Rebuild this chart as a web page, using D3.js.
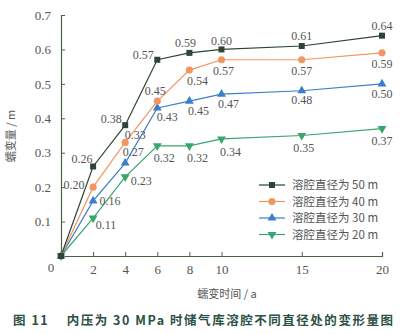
<!DOCTYPE html>
<html><head><meta charset="utf-8">
<script src="https://cdn.jsdelivr.net/npm/d3@7/dist/d3.min.js"></script>
<style>body{margin:0;background:#fff}svg{display:block}</style>
</head><body>
<script>
const years = [0, 2, 4, 6, 8, 10, 15, 20];
const s50 = [0, 0.26, 0.38, 0.57, 0.59, 0.60, 0.61, 0.64];
const s40 = [0, 0.20, 0.33, 0.45, 0.54, 0.57, 0.57, 0.59];
const s30 = [0, 0.16, 0.27, 0.43, 0.45, 0.47, 0.48, 0.50];
const s20 = [0, 0.11, 0.23, 0.32, 0.32, 0.34, 0.35, 0.37];
const seriesNames = ["溶腔直径为 50 m", "溶腔直径为 40 m", "溶腔直径为 30 m", "溶腔直径为 20 m"];
const xTicks = [2, 4, 6, 8, 10, 15, 20];
const yTicks = [0.1, 0.2, 0.3, 0.4, 0.5, 0.6, 0.7];
// label offsets (dx, dy) per point, per series
const off50 = [null, [-11,-8], [-14,-6], [-14,-5], [-4,-10], [0,-9], [0,-10], [0,-10]];
const off40 = [null, [-19,-2], [10,-8], [-2,-10], [8,11], [2,11], [0,11], [0,11]];
const off30 = [null, [17,0], [8,-11], [10,9], [9,10], [7,10], [0,9], [0,10]];
const off20 = [null, [13,7], [16,4], [7,12], [8,12], [9,13], [2,12], [0,12]];

const W = 400, H = 334;
const svg = d3.select("body").append("svg").attr("width", W).attr("height", H);
const x = d3.scaleLinear().domain([0, 20]).range([61, 382]);
const y = d3.scaleLinear().domain([0, 0.7]).range([256, 15]);
const axisColor = "#4a6345";
const textColor = "#555";
const numFont = "'Liberation Serif', 'DejaVu Serif', serif";
const cjkFont = "'Noto Sans CJK SC', sans-serif";

// axes
const gx = svg.append("g").attr("transform", `translate(0,${y(0)})`)
  .call(d3.axisBottom(x).tickValues(xTicks).tickSize(-4).tickPadding(9).tickFormat(d3.format("d")));
const gy = svg.append("g").attr("transform", `translate(${x(0)},0)`)
  .call(d3.axisLeft(y).tickValues(yTicks).tickSize(-4).tickPadding(10).tickFormat(d3.format(".1f")));
[gx, gy].forEach(g => {
  g.select(".domain").attr("stroke", axisColor).attr("stroke-width", 1.2);
  g.selectAll(".tick line").attr("stroke", axisColor);
  g.selectAll(".tick text").attr("fill", textColor).style("font-family", numFont).style("font-size", "13px");
});
svg.append("text").attr("x", 51).attr("y", 272).attr("text-anchor", "middle")
  .attr("fill", textColor).style("font-family", numFont).style("font-size", "13px").text("0");

// axis titles
svg.append("text").attr("transform", `translate(15,136) rotate(-90)`).attr("text-anchor", "middle")
  .attr("fill", textColor).style("font-family", cjkFont).style("font-size", "11px").text("蠕变量 / m");
svg.append("text").attr("x", 227).attr("y", 298).attr("text-anchor", "middle")
  .attr("fill", textColor).style("font-family", cjkFont).style("font-size", "11px").text("蠕变时间 / a");

// title
svg.append("text").attr("x", 13).attr("y", 325).attr("text-anchor", "start")
  .attr("textLength", 380).attr("lengthAdjust", "spacing")
  .attr("fill", "#2c4f46").style("font-family", cjkFont).style("font-size", "12.5px").style("font-weight", "bold")
  .attr("xml:space", "preserve")
  .text("图 11    内压为 30 MPa 时储气库溶腔不同直径处的变形量图");

const series = [
  {name: seriesNames[0], vals: s50, color: "#2c4535", sym: d3.symbolSquare, size: 36, off: off50},
  {name: seriesNames[1], vals: s40, color: "#f39560", sym: d3.symbolCircle, size: 40, off: off40},
  {name: seriesNames[2], vals: s30, color: "#3a7fc9", sym: d3.symbolTriangle, size: 34, off: off30},
  {name: seriesNames[3], vals: s20, color: "#3aa56e", sym: d3.symbolTriangle, size: 34, off: off20, rot: 180}
];

const line = d3.line().x((d, i) => x(years[i])).y(d => y(d));
series.slice().reverse().forEach(s => {
  svg.append("path").datum(s.vals).attr("d", line).attr("fill", "none").attr("stroke", s.color).attr("stroke-width", 1.2);
});
series.slice().reverse().forEach(s => {
  svg.selectAll(null).data(s.vals).enter().append("path")
    .attr("d", d3.symbol().type(s.sym).size(s.size))
    .attr("transform", (d, i) => `translate(${x(years[i])},${y(d)})` + (s.rot ? ` rotate(${s.rot})` : ""))
    .attr("fill", s.color);
});
series.forEach(s => {
  svg.selectAll(null).data(s.vals.map((v, i) => ({v, i})).filter(d => d.i > 0)).enter().append("text")
    .attr("x", d => x(years[d.i]) + s.off[d.i][0])
    .attr("y", d => y(d.v) + s.off[d.i][1])
    .attr("text-anchor", "middle").attr("dy", "0.35em")
    .attr("fill", textColor).style("font-family", numFont).style("font-size", "12px")
    .text(d => d3.format(".2f")(d.v));
});

// legend
const lg = svg.append("g");
series.forEach((s, k) => {
  const ly = 185 + k * 16.5;
  lg.append("line").attr("x1", 259).attr("x2", 285).attr("y1", ly).attr("y2", ly).attr("stroke", s.color).attr("stroke-width", 1.2);
  lg.append("path").attr("d", d3.symbol().type(s.sym).size(s.size))
    .attr("transform", `translate(272,${ly})` + (s.rot ? ` rotate(${s.rot})` : "")).attr("fill", s.color);
  lg.append("text").attr("x", 292).attr("y", ly).attr("dy", "0.35em").attr("fill", textColor)
    .style("font-family", cjkFont).style("font-size", "11.5px").text(s.name);
});
</script>
</body></html>
